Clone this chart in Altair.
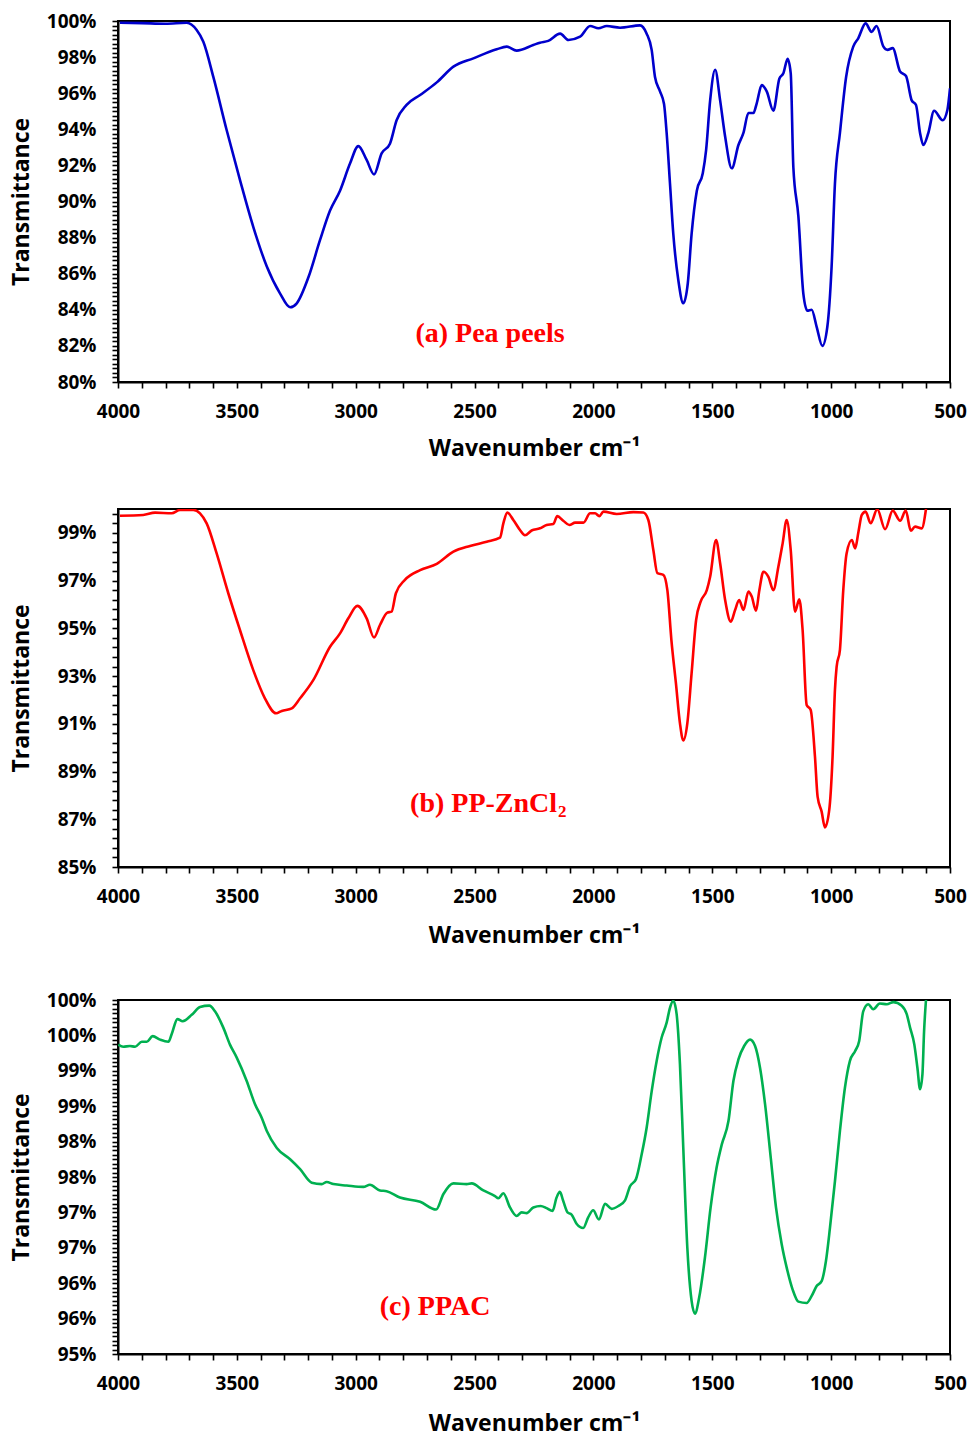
import altair as alt
import numpy as np
import pandas as pd

# (a) Pea peels
wn_a = [3992, 3900, 3800, 3711, 3669, 3641, 3599, 3543, 3487, 3431, 3374, 3318, 3276, 3248,
        3199, 3150, 3108, 3066, 3024, 2989, 2954, 2923, 2891, 2856, 2828, 2786, 2729, 2659,
        2589, 2505, 2407, 2365, 2323, 2253, 2225, 2190, 2140, 2105, 2056, 2014, 1979, 1944,
        1888, 1804, 1776, 1755, 1741, 1720, 1703, 1692, 1678, 1664, 1643, 1622, 1603, 1587,
        1565, 1540, 1526, 1509, 1488, 1467, 1446, 1418, 1390, 1369, 1348, 1327, 1313, 1292,
        1271, 1243, 1218, 1201, 1183, 1170, 1159, 1138, 1117, 1100, 1082, 1061, 1037, 1016,
        998, 984, 963, 937, 907, 886, 855, 830, 809, 780, 763, 741, 710, 685, 661, 643, 626,
        612, 591, 567, 531, 511, 500]
t_a = [99.9, 99.88, 99.85, 99.9, 99.5, 98.85, 96.9, 93.96, 91.2, 88.6, 86.4, 84.9, 84.14, 84.36,
       85.8, 87.87, 89.5, 90.6, 92.1, 93.07, 92.3, 91.5, 92.67, 93.2, 94.5, 95.35, 95.9, 96.6,
       97.47, 97.93, 98.43, 98.58, 98.36, 98.67, 98.8, 98.9, 99.3, 98.95, 99.13, 99.72, 99.6, 99.72,
       99.63, 99.76, 99.3, 98.4, 96.9, 96.1, 95.4, 93.8, 91.0, 88.2, 85.65, 84.36, 85.47, 88.2,
       90.6, 91.56, 92.85, 95.6, 97.3, 95.6, 93.6, 91.84, 93.13, 93.8, 94.9, 94.9, 95.44, 96.45,
       96.1, 95.03, 96.8, 97.1, 97.9, 97.1, 91.9, 89.2, 84.9, 83.95, 84.0, 83.06, 82.0, 83.06,
       86.4, 91.0, 93.8, 96.9, 98.58, 99.04, 99.87, 99.4, 99.72, 98.58, 98.4, 98.5, 97.2, 96.95,
       95.6, 95.35, 93.8, 93.13, 93.8, 95.03, 94.5, 95.07, 96.27]

# (b) PP-ZnCl2
wn_b = [3992, 3894, 3844, 3774, 3739, 3683, 3655, 3627, 3585, 3536, 3487, 3431, 3382, 3335,
        3311, 3269, 3234, 3178, 3108, 3066, 3031, 2993, 2954, 2923, 2898, 2867, 2849, 2831,
        2793, 2729, 2659, 2589, 2519, 2449, 2393, 2379, 2362, 2337, 2309, 2288, 2260, 2225,
        2197, 2169, 2152, 2127, 2101, 2077, 2042, 2014, 1993, 1975, 1958, 1902, 1832, 1790,
        1769, 1748, 1731, 1706, 1689, 1672, 1653, 1636, 1622, 1605, 1587, 1568, 1549, 1523,
        1509, 1484, 1467, 1446, 1422, 1404, 1387, 1369, 1348, 1334, 1316, 1302, 1285, 1264,
        1243, 1222, 1204, 1187, 1170, 1152, 1134, 1120, 1103, 1086, 1068, 1057, 1040, 1026,
        1008, 994, 984, 977, 963, 949, 935, 913, 899, 885, 871, 855, 834, 806, 773, 741, 710,
        686, 665, 647, 619, 601]
t_b = [99.72, 99.75, 99.85, 99.82, 99.96, 99.96, 99.82, 99.4, 98.14, 96.47, 94.93, 93.25, 92.07, 91.44,
       91.54, 91.65, 92.07, 92.84, 94.23, 94.79, 95.42, 95.94, 95.42, 94.62, 95.14, 95.66, 95.7, 96.47,
       97.03, 97.44, 97.7, 98.21, 98.45, 98.63, 98.8, 99.4, 99.85, 99.54, 99.12, 98.9, 99.1, 99.19,
       99.33, 99.37, 99.7, 99.51, 99.33, 99.43, 99.43, 99.82, 99.82, 99.7, 99.89, 99.79, 99.87, 99.85,
       99.54, 98.28, 97.31, 97.24, 96.6, 94.51, 92.7, 91.02, 90.3, 91.02, 93.12, 95.35, 96.12, 96.6,
       97.16, 98.7, 97.73, 96.19, 95.28, 95.77, 96.19, 95.77, 96.54, 96.33, 95.74, 96.6, 97.37, 97.16,
       96.6, 97.58, 98.56, 99.54, 98.28, 95.7, 96.22, 94.93, 91.79, 91.58, 89.62, 87.95, 87.32, 86.66,
       87.39, 89.62, 92.42, 93.39, 94.1, 96.6, 98.14, 98.7, 98.35, 99.05, 99.75, 99.89, 99.4, 99.99, 99.15, 99.93, 99.51,
       99.93, 99.09, 99.26, 99.19, 100.0]

# (c) PPAC
wn_c = [3999, 3978, 3950, 3928, 3900, 3879, 3854, 3823, 3788, 3774, 3750, 3728, 3690, 3655,
        3616, 3592, 3557, 3529, 3501, 3459, 3424, 3396, 3374, 3332, 3276, 3234, 3185, 3143,
        3122, 3094, 3038, 2968, 2940, 2898, 2870, 2814, 2729, 2662, 2631, 2589, 2533, 2512,
        2463, 2414, 2400, 2379, 2351, 2323, 2302, 2281, 2253, 2222, 2197, 2172, 2155, 2141,
        2127, 2109, 2092, 2071, 2043, 2022, 2001, 1977, 1951, 1923, 1895, 1867, 1846, 1821,
        1797, 1776, 1755, 1734, 1713, 1692, 1678, 1664, 1650, 1636, 1622, 1605, 1587, 1573,
        1555, 1531, 1507, 1482, 1460, 1432, 1411, 1390, 1366, 1341, 1320, 1299, 1278, 1254,
        1232, 1208, 1187, 1162, 1138, 1103, 1082, 1061, 1040, 1022, 1005, 984, 963, 942, 921,
        899, 882, 865, 844, 823, 795, 766, 738, 703, 682, 668, 650, 637, 626, 616, 609, 601]
t_c = [99.37, 99.34, 99.35, 99.34, 99.41, 99.41, 99.49, 99.44, 99.41, 99.52, 99.73, 99.7, 99.79, 99.9,
       99.92, 99.84, 99.61, 99.37, 99.19, 98.86, 98.53, 98.34, 98.15, 97.91, 97.75, 97.61, 97.42, 97.4,
       97.43, 97.4, 97.38, 97.36, 97.39, 97.31, 97.3, 97.21, 97.15, 97.04, 97.26, 97.41, 97.4, 97.41,
       97.31, 97.23, 97.2, 97.27, 97.07, 96.95, 97.0, 96.99, 97.07, 97.09, 97.06, 97.02, 97.21, 97.29,
       97.16, 97.0, 96.97, 96.84, 96.78, 96.93, 97.03, 96.9, 97.12, 97.05, 97.09, 97.17, 97.37, 97.47,
       97.82, 98.2, 98.71, 99.14, 99.47, 99.68, 99.89, 99.99, 99.8, 99.09, 97.91, 96.5, 95.75, 95.57,
       95.8, 96.36, 97.07, 97.63, 97.96, 98.29, 98.86, 99.16, 99.35, 99.44, 99.35, 99.04, 98.53, 97.77,
       97.07, 96.55, 96.22, 95.91, 95.74, 95.72, 95.82, 95.96, 96.03, 96.31, 96.78, 97.44, 98.15, 98.76, 99.14,
       99.28, 99.42, 99.84, 99.94, 99.87, 99.95, 99.94, 99.97, 99.92, 99.8, 99.61, 99.37, 99.04, 98.74, 98.95, 99.56, 100.0]

AX_FONT = "Open Sans"
LBL_FONT = "Liberation Serif"
X_TITLE = "Wavenumber cm\u207b\u00b9"
x_ticks = list(range(500, 4001, 100))


def panel(wn, tr, color, ydom, ystep, label_expr, height, notes, title_pad):
    df = pd.DataFrame({"wn": wn, "T": tr})
    y_ticks = [round(v, 4) for v in np.arange(ydom[0], ydom[1] + 1e-9, ystep)]
    xs = alt.Scale(domain=[500, 4000], reverse=True, nice=False, zero=False)
    ys = alt.Scale(domain=ydom, nice=False, zero=False)
    x_axis = alt.Axis(
        values=x_ticks, title=X_TITLE,
        labelExpr="datum.value % 500 == 0 ? toString(datum.value) : ''",
        labelOverlap=False, labelFlush=False, tickSize=6, labelPadding=14,
        titlePadding=title_pad)
    y_axis = alt.Axis(
        values=y_ticks, title="Transmittance", labelExpr=label_expr,
        labelOverlap=False, labelFlush=False, tickSize=6, labelPadding=16,
        titleX=-85, titleY=height / 2)
    line = alt.Chart(df).mark_line(
        color=color, strokeWidth=2.6, interpolate="monotone", clip=True
    ).encode(
        x=alt.X("wn:Q", scale=xs, axis=x_axis),
        y=alt.Y("T:Q", scale=ys, axis=y_axis),
    )
    layers = [line]
    for (w, t, txt, size, align, dx) in notes:
        nd = pd.DataFrame({"wn": [w], "T": [t], "txt": [txt]})
        layers.append(
            alt.Chart(nd).mark_text(
                font=LBL_FONT, fontWeight="bold", fontSize=size, color="#FF0000",
                align=align, baseline="alphabetic", dx=dx
            ).encode(
                x=alt.X("wn:Q", scale=xs, axis=x_axis),
                y=alt.Y("T:Q", scale=ys, axis=y_axis),
                text="txt:N",
            )
        )
    return alt.layer(*layers).properties(width=832, height=height)


pa = panel(wn_a, t_a, "#0000CC", [80, 100], 0.25,
           "datum.value % 2 == 0 ? datum.value + '%' : ''", 361,
           [(2435, 82.23, "(a) Pea peels", 28, "center", 0)], 16)
pb = panel(wn_b, t_b, "#FF0000", [85, 100], 0.4,
           "(round(datum.value * 10) - 850) % 20 == 0 ? round(datum.value) + '%' : ''", 358,
           [(2153, 87.31, "(b) PP-ZnCl", 28, "right", 0),
            (2153, 87.1, "2", 17, "left", 1)], 18)
pc = panel(wn_c, t_c, "#00B050", [95, 100], 0.0625,
           "datum.value % 0.5 == 0 ? round(datum.value) + '%' : ''", 354,
           [(2666, 95.55, "(c) PPAC", 28, "center", 0)], 19)

chart = alt.vconcat(pa, pb, pc, spacing=42).configure_view(
    stroke="black", strokeWidth=2
).configure_axis(
    grid=False, domainColor="black", domainWidth=2, tickColor="black", tickWidth=1.6,
    labelFont=AX_FONT, labelFontWeight="bold", labelFontSize=19, labelColor="black",
    titleFont=AX_FONT, titleFontWeight="bold", titleFontSize=23, titleColor="black",
).properties(
    padding={"left": 9, "top": 11, "right": 0, "bottom": 0},
    background="white",
)

chart.save("out.html", embed_options={"renderer": "svg", "actions": False})
